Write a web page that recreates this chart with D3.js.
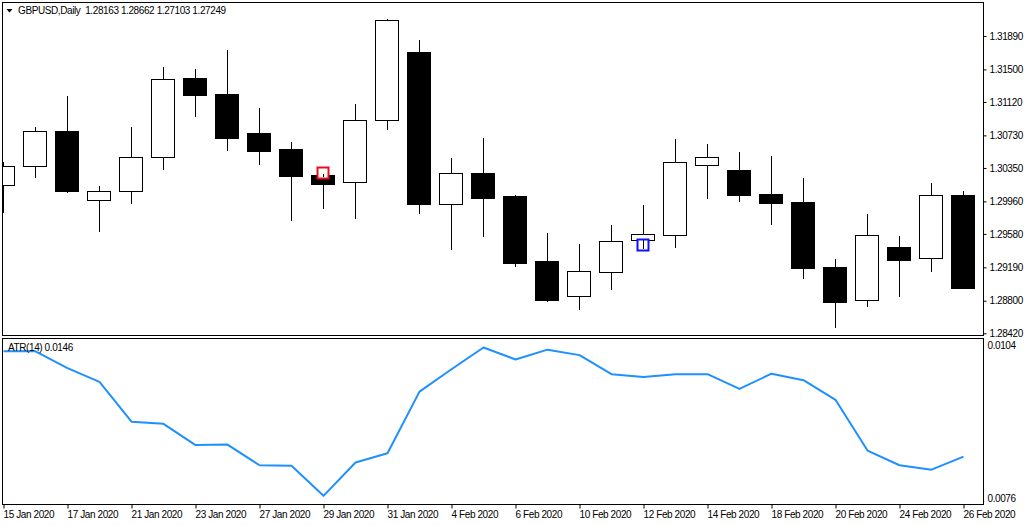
<!DOCTYPE html>
<html>
<head>
<meta charset="utf-8">
<script src="https://cdn.jsdelivr.net/npm/d3@7"></script>
<style>
  body { margin: 0; background: #fff; }
  svg { display: block; font-family: "Liberation Sans", Arial, sans-serif; }
  text { font-size: 10px; letter-spacing: -0.4px; fill: #000; white-space: pre; }
</style>
</head>
<body>
<div class="chart"></div>
<script>
// GBPUSD daily candles
const dates = [
  "15 Jan 2020", "16 Jan 2020", "17 Jan 2020", "20 Jan 2020", "21 Jan 2020", "22 Jan 2020",
  "23 Jan 2020", "24 Jan 2020", "27 Jan 2020", "28 Jan 2020", "29 Jan 2020", "30 Jan 2020",
  "31 Jan 2020", "3 Feb 2020", "4 Feb 2020", "5 Feb 2020", "6 Feb 2020", "7 Feb 2020",
  "10 Feb 2020", "11 Feb 2020", "12 Feb 2020", "13 Feb 2020", "14 Feb 2020", "17 Feb 2020",
  "18 Feb 2020", "19 Feb 2020", "20 Feb 2020", "21 Feb 2020", "24 Feb 2020", "25 Feb 2020",
  "26 Feb 2020"
];
const open  = [1.30147, 1.30369, 1.30781, 1.29979, 1.30077, 1.30474, 1.31400, 1.31210, 1.30758, 1.30571,
               1.30271, 1.30189, 1.30906, 1.31703, 1.29933, 1.30291, 1.30022, 1.29264, 1.28859, 1.29132,
               1.29505, 1.29564, 1.30381, 1.30326, 1.30046, 1.29953, 1.29194, 1.28805, 1.29427, 1.29295,
               1.30034];
const high  = [1.30416, 1.30828, 1.31190, 1.30139, 1.30828, 1.31528, 1.31505, 1.31727, 1.31050, 1.30653,
               1.30291, 1.31093, 1.32088, 1.31843, 1.30466, 1.30699, 1.30030, 1.29591, 1.29462, 1.29684,
               1.29917, 1.30688, 1.30629, 1.30536, 1.30493, 1.30236, 1.29287, 1.29812, 1.29556, 1.30174,
               1.30081];
const low   = [1.29839, 1.30248, 1.30073, 1.29618, 1.29944, 1.30341, 1.30960, 1.30559, 1.30400, 1.29742,
               1.29886, 1.29769, 1.30808, 1.29828, 1.29407, 1.29559, 1.29209, 1.28800, 1.28707, 1.28941,
               1.29451, 1.29431, 1.30003, 1.29968, 1.29699, 1.29069, 1.28490, 1.28742, 1.28859, 1.29144,
               1.28952];
const close = [1.30373, 1.30778, 1.30084, 1.30077, 1.30478, 1.31385, 1.31205, 1.30703, 1.30551, 1.30259,
               1.30166, 1.30906, 1.32073, 1.29933, 1.30287, 1.30003, 1.29244, 1.28812, 1.29144, 1.29494,
               1.29575, 1.30416, 1.30474, 1.30038, 1.29944, 1.29186, 1.28789, 1.29564, 1.29279, 1.30034,
               1.28952];

// ATR(14)
const atr = [0.01029, 0.01029, 0.00998, 0.00973, 0.00900, 0.00896, 0.00857, 0.00858, 0.00820, 0.00819,
             0.00764, 0.00825, 0.00842, 0.00955, 0.00996, 0.01036, 0.01014, 0.01032, 0.01022, 0.00987,
             0.00982, 0.00987, 0.00987, 0.00960, 0.00988, 0.00976, 0.00940, 0.00847, 0.00820, 0.00812,
             0.00836];

const priceTicks = [1.31890, 1.31500, 1.31120, 1.30730, 1.30350, 1.29960, 1.29580, 1.29190, 1.28800, 1.28420];
const atrTicks = [0.0104, 0.0076];
const dateTicks = dates.filter((d, i) => i % 2 === 0);

// the two small square markers on the chart
const markerDates = ["29 Jan 2020", "12 Feb 2020"];
const markerPrices = [1.30294, 1.29451];

const title = "GBPUSD,Daily  1.28163 1.28662 1.27103 1.27249";
const atrTitle = "ATR(14) 0.0146";

const width = 1029;
const height = 525;
const left = 2.5, right = 983.5;
const mainTop = 2.5, mainBottom = 335.5;
const atrTop = 338.5, atrBottom = 504.5;

const candles = dates.map((d, i) => ({ date: d, o: open[i], h: high[i], l: low[i], c: close[i] }));

const x = d3.scalePoint().domain(dates).range([3.5, 963.5]);
const y = d3.scaleLinear().domain([1.28420, 1.31890]).range([333.3, 36]);
const yAtr = d3.scaleLinear().domain([0.0076, 0.0104]).range([498, 345.3]);

const svg = d3
  .select(".chart")
  .append("svg")
  .attr("width", width)
  .attr("height", height);

svg.append("clipPath").attr("id", "clip-main")
  .append("rect")
  .attr("x", left + 0.5).attr("y", mainTop + 0.5)
  .attr("width", right - left - 1).attr("height", mainBottom - mainTop - 1);

svg.append("clipPath").attr("id", "clip-atr")
  .append("rect")
  .attr("x", left + 0.5).attr("y", atrTop + 0.5)
  .attr("width", right - left - 1).attr("height", atrBottom - atrTop - 1);

// candles
const plot = svg.append("g").attr("clip-path", "url(#clip-main)");

plot.selectAll("line.wick")
  .data(candles)
  .enter()
  .append("line")
  .attr("class", "wick")
  .attr("x1", (d) => x(d.date))
  .attr("x2", (d) => x(d.date))
  .attr("y1", (d) => Math.round(y(d.h)))
  .attr("y2", (d) => Math.round(y(d.l)) + 1)
  .attr("stroke", "#000")
  .attr("stroke-width", 1);

plot.selectAll("rect.body")
  .data(candles)
  .enter()
  .append("rect")
  .attr("class", "body")
  .attr("x", (d) => x(d.date) - 12)
  .attr("width", 23)
  .attr("y", (d) => Math.round(y(Math.max(d.o, d.c))) + 0.5)
  .attr("height", (d) => Math.max(1, Math.round(y(Math.min(d.o, d.c))) - Math.round(y(Math.max(d.o, d.c)))))
  .attr("fill", (d) => (d.c >= d.o ? "#fff" : "#000"))
  .attr("stroke", "#000")
  .attr("stroke-width", 1);

// markers
const markerColors = ["#e8101c", "#1010ff"];
markerDates.forEach((d, i) => {
  const cx = x(d);
  const cy = Math.round(y(markerPrices[i]));
  plot.append("rect")
    .attr("x", cx - 6)
    .attr("y", cy - 5.5)
    .attr("width", 11)
    .attr("height", 11)
    .attr("fill", "#fff")
    .attr("stroke", markerColors[i])
    .attr("stroke-width", 2);
  plot.append("line")
    .attr("x1", cx).attr("x2", cx)
    .attr("y1", cy - 5 + (i === 0 ? 6 : 0))
    .attr("y2", cy + 4)
    .attr("stroke", "#000");
});

// ATR line
svg.append("path")
  .datum(atr)
  .attr("clip-path", "url(#clip-atr)")
  .attr("fill", "none")
  .attr("stroke", "#1e90ff")
  .attr("stroke-width", 2)
  .attr("stroke-linejoin", "round")
  .attr("d", d3.line().x((d, i) => x(dates[i])).y((d) => yAtr(d)));

// frames
svg.append("rect")
  .attr("x", left).attr("y", mainTop)
  .attr("width", right - left).attr("height", mainBottom - mainTop)
  .attr("fill", "none").attr("stroke", "#000");
svg.append("rect")
  .attr("x", left).attr("y", atrTop)
  .attr("width", right - left).attr("height", atrBottom - atrTop)
  .attr("fill", "none").attr("stroke", "#000");

// price axis
const priceAxis = svg.append("g")
  .attr("transform", `translate(${right},0)`)
  .call(d3.axisRight(y).tickValues(priceTicks).tickSize(3).tickPadding(3).tickFormat(d3.format(".5f")));
priceAxis.select(".domain").remove();
priceAxis.attr("font-size", null).attr("font-family", null);

// atr axis
const atrAxis = svg.append("g")
  .attr("transform", `translate(${right},0)`)
  .call(d3.axisRight(yAtr).tickValues(atrTicks).tickSize(0).tickPadding(4).tickFormat(d3.format(".4f")));
atrAxis.select(".domain").remove();
atrAxis.attr("font-size", null).attr("font-family", null);

// time axis
const timeAxis = svg.append("g")
  .attr("transform", `translate(0,${atrBottom})`)
  .call(d3.axisBottom(x).tickValues(dateTicks).tickSize(4).tickPadding(2));
timeAxis.select(".domain").remove();
timeAxis.attr("font-size", null).attr("font-family", null);
timeAxis.selectAll("text")
  .attr("text-anchor", "start")
  .attr("x", -0.5)
  .attr("y", 13)
  .attr("dy", null);

// titles
svg.append("path")
  .attr("d", "M6.5,9 L12.5,9 L9.5,12.5 Z")
  .attr("fill", "#000");
svg.append("text")
  .attr("x", 18)
  .attr("y", 14)
  .text(title);
svg.append("text")
  .attr("x", 8)
  .attr("y", 351)
  .text(atrTitle);
</script>
</body>
</html>
